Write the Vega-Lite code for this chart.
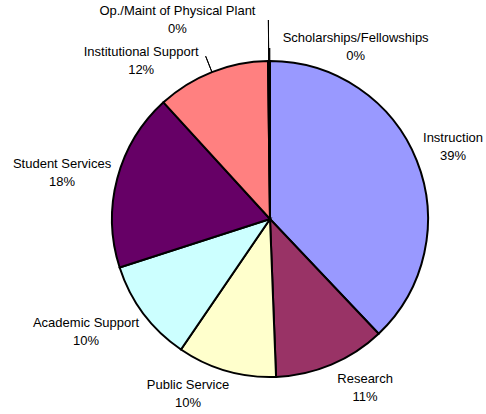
{
  "$schema": "https://vega.github.io/schema/vega-lite/v6.json",
  "width": 432,
  "height": 390,
  "padding": {"left": 54, "top": 24, "right": 0, "bottom": 0},
  "autosize": {"type": "none"},
  "background": "white",
  "config": {"view": {"stroke": null}, "text": {"font": "Liberation Sans", "fontSize": 13, "fill": "#000000", "lineBreak": "\n", "lineHeight": 18, "align": "center", "baseline": "middle", "radius": 190}},
  "data": {"values": [
    {"idx": 1, "name": "Instruction", "value": 37.93, "pct": "39%"},
    {"idx": 2, "name": "Research", "value": 11.46, "pct": "11%"},
    {"idx": 3, "name": "Public Service", "value": 10.14, "pct": "10%"},
    {"idx": 4, "name": "Academic Support", "value": 10.5, "pct": "10%"},
    {"idx": 5, "name": "Student Services", "value": 18.19, "pct": "18%"},
    {"idx": 6, "name": "Institutional Support", "value": 11.58, "pct": "12%"},
    {"idx": 7, "name": "Op./Maint of Physical Plant", "value": 0.14, "pct": "0%"},
    {"idx": 8, "name": "Scholarships/Fellowships", "value": 0.06, "pct": "0%"}
  ]},
  "transform": [
    {"stack": "value", "sort": [{"field": "idx", "order": "ascending"}], "groupby": [], "as": ["v0", "v1"]},
    {"calculate": "(datum.v0 + datum.v1) / 2", "as": "mid"},
    {"calculate": "datum.name + '\\n' + datum.pct", "as": "label"}
  ],
  "layer": [
    {
      "mark": {"type": "arc", "outerRadius": 158, "stroke": "#000000", "strokeWidth": 2},
      "encoding": {
        "theta": {"field": "v0", "type": "quantitative", "scale": {"domain": [0, 100], "range": [0, 6.283185307]}},
        "theta2": {"field": "v1"},
        "color": {"field": "name", "type": "nominal", "legend": null,
          "scale": {"domain": ["Instruction", "Research", "Public Service", "Academic Support", "Student Services", "Institutional Support", "Op./Maint of Physical Plant", "Scholarships/Fellowships"],
                    "range": ["#9999FF", "#993366", "#FFFFCC", "#CCFFFF", "#660066", "#FF8080", "#0066CC", "#CCCCFF"]}}
      }
    },
    {
      "transform": [{"filter": "datum.idx == 7"}],
      "mark": {"type": "arc", "innerRadius": 158, "outerRadius": 199, "fill": null, "stroke": "#000000", "strokeWidth": 1},
      "encoding": {"theta": {"field": "mid", "type": "quantitative"}, "theta2": {"field": "mid"}}
    },
    {
      "transform": [{"filter": "datum.idx == 8"}],
      "mark": {"type": "arc", "innerRadius": 158, "outerRadius": 171, "fill": null, "stroke": "#000000", "strokeWidth": 1},
      "encoding": {"theta": {"field": "mid", "type": "quantitative"}, "theta2": {"field": "mid"}}
    },
    {
      "transform": [{"filter": "datum.idx == 6"}],
      "mark": {"type": "arc", "innerRadius": 158, "outerRadius": 175, "fill": null, "stroke": "#000000", "strokeWidth": 1},
      "encoding": {"theta": {"field": "mid", "type": "quantitative"}, "theta2": {"field": "mid"}}
    },
    {"transform": [{"filter": "datum.idx == 1"}], "mark": {"type": "text", "dx": 6.5, "dy": -10.3}, "encoding": {"theta": {"field": "mid", "type": "quantitative"}, "text": {"field": "label"}}},
    {"transform": [{"filter": "datum.idx == 2"}], "mark": {"type": "text", "dx": 21.4, "dy": -15.2}, "encoding": {"theta": {"field": "mid", "type": "quantitative"}, "text": {"field": "label"}}},
    {"transform": [{"filter": "datum.idx == 3"}], "mark": {"type": "text", "dx": -29.5, "dy": -16.6}, "encoding": {"theta": {"field": "mid", "type": "quantitative"}, "text": {"field": "label"}}},
    {"transform": [{"filter": "datum.idx == 4"}], "mark": {"type": "text", "dx": -31.8, "dy": -9.8}, "encoding": {"theta": {"field": "mid", "type": "quantitative"}, "text": {"field": "label"}}},
    {"transform": [{"filter": "datum.idx == 5"}], "mark": {"type": "text", "dx": -24.3, "dy": -6.3}, "encoding": {"theta": {"field": "mid", "type": "quantitative"}, "text": {"field": "label"}}},
    {"transform": [{"filter": "datum.idx == 6"}], "mark": {"type": "text", "dx": -59, "dy": 9.7}, "encoding": {"theta": {"field": "mid", "type": "quantitative"}, "text": {"field": "label"}}},
    {"transform": [{"filter": "datum.idx == 7"}], "mark": {"type": "text", "dx": -91, "dy": -18}, "encoding": {"theta": {"field": "mid", "type": "quantitative"}, "text": {"field": "label"}}},
    {"transform": [{"filter": "datum.idx == 8"}], "mark": {"type": "text", "dx": 86, "dy": 9}, "encoding": {"theta": {"field": "mid", "type": "quantitative"}, "text": {"field": "label"}}}
  ]
}
